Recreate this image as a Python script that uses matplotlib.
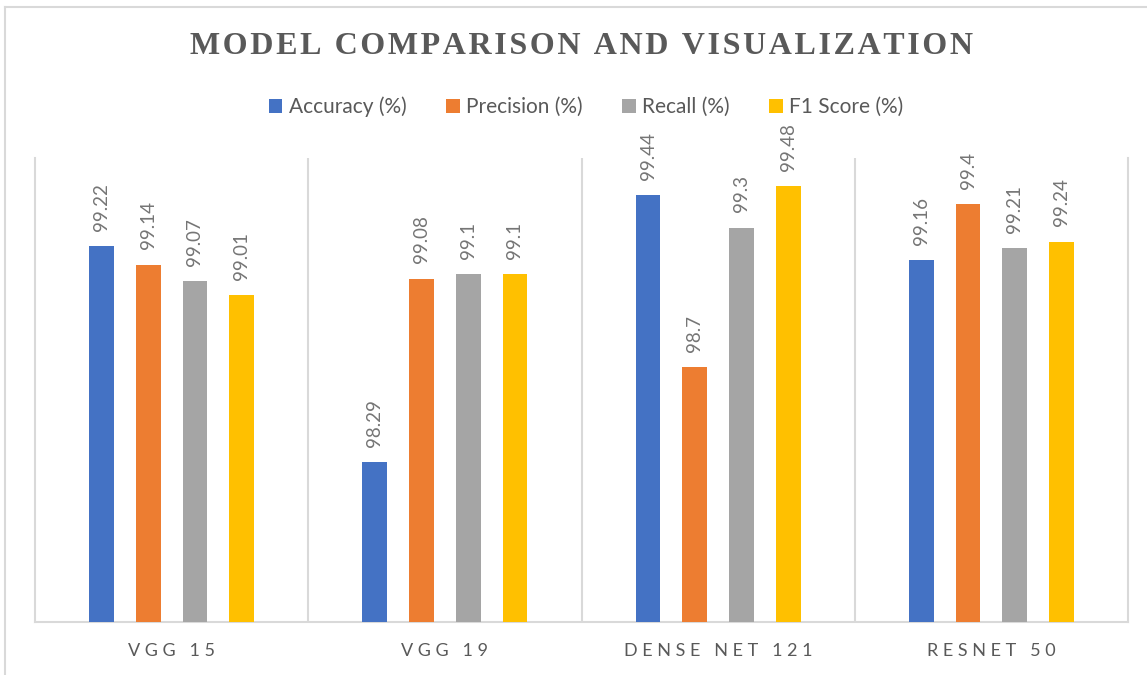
import numpy as np
import matplotlib
matplotlib.use("Agg")
import matplotlib.pyplot as plt
from matplotlib.patches import Patch
from matplotlib.lines import Line2D

plt.rcParams['font.family'] = ['Lato', 'DejaVu Sans']

models = ["VGG 15", "VGG 19", "DENSE NET 121", "RESNET 50"]
metrics = ["Accuracy (%)", "Precision (%)", "Recall (%)", "F1 Score (%)"]
accuracy = [99.22, 98.29, 99.44, 99.16]
precision = [99.14, 99.08, 98.7, 99.4]
recall = [99.07, 99.1, 99.3, 99.21]
f1 = [99.01, 99.1, 99.48, 99.24]
colors = ["#4472C4", "#ED7D31", "#A5A5A5", "#FFC000"]
title = "MODEL COMPARISON AND VISUALIZATION"

series = [accuracy, precision, recall, f1]
grid_col = "#d9d9d9"
text_col = "#595959"

fig = plt.figure(figsize=(11.47, 6.75), dpi=100)
ax = fig.add_axes([35/1147, 53/675, (1128-35)/1147, (622-158)/675])

x = np.arange(len(models))
step = 0.171
width = 0.09
for i, (vals, c) in enumerate(zip(series, colors)):
    pos = x + (i - 1.5) * step
    bars = ax.bar(pos, vals, width=width, color=c, zorder=3)
    for b, v in zip(bars, vals):
        ax.annotate(f"{v:g}", (b.get_x() + b.get_width() / 2, v),
                    xytext=(0, 11), textcoords="offset points",
                    rotation=90, ha="center", va="bottom",
                    fontsize=13.5, color="#757575")

ax.set_xlim(-0.5, len(models) - 0.5)
ax.set_ylim(97.6, 99.6)
ax.set_yticks([])
for sep in np.arange(0.5, len(models) - 0.5, 1):
    ax.axvline(sep, color=grid_col, lw=1.5, zorder=1)
for s in ["left", "right", "bottom"]:
    ax.spines[s].set_color(grid_col)
    ax.spines[s].set_linewidth(1.5)
ax.spines["top"].set_visible(False)

spaced = ["   ".join(" ".join(w) for w in m.split(" ")) for m in models]
ax.set_xticks(x)
ax.set_xticklabels(spaced, fontsize=13, color=text_col)
ax.tick_params(axis="x", length=0, pad=15)

# letter-spaced title (hair spaces between letters)
hs = "\u200a"
title_sp = (hs + " " + hs).join(hs.join(w) for w in title.split(" "))
fig.text(581/1147, 1 - 46/675, title_sp,
         ha="center", va="center", fontsize=23, fontweight="bold",
         color=text_col, family=["Liberation Serif", "DejaVu Serif"])

handles = [Patch(facecolor=c, edgecolor="none") for c in colors]
fig.legend(handles, metrics, loc="center", bbox_to_anchor=(586/1147, 1 - 107/675),
           ncol=4, frameon=False, fontsize=15, labelcolor=text_col,
           handlelength=0.65, handleheight=0.65, handletextpad=0.3, columnspacing=1.9)

# outer chart frame (top and left edges)
fig.add_artist(Line2D([5/1147, 1], [1 - 7/675, 1 - 7/675], color=grid_col, lw=1.5))
fig.add_artist(Line2D([5/1147, 5/1147], [0, 1 - 7/675], color=grid_col, lw=1.5))

fig.savefig("out.png", dpi=100)
